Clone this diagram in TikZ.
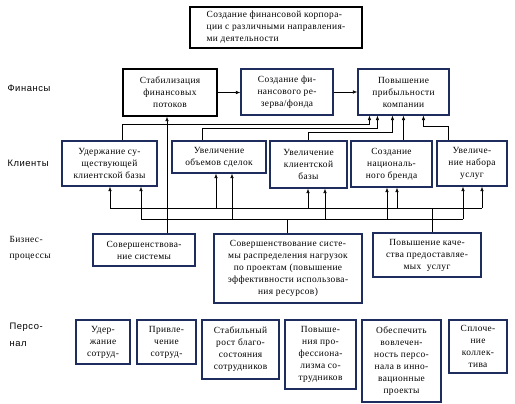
\documentclass[tikz,border=0pt]{standalone}
\usepackage{fontspec}
\setmainfont{Liberation Serif}[LetterSpace=4]
\newfontfamily\lblfont{Liberation Sans}[LetterSpace=6]
\usetikzlibrary{arrows.meta}
\definecolor{boxblue}{HTML}{1F2D5E}
\newcommand{\boxfont}{\fontsize{9.4}{12}\selectfont}
\begin{document}
\begin{tikzpicture}[x=1pt,y=-1pt,
    box/.style={draw=boxblue, line width=1.1pt, align=center, inner sep=1pt, font=\boxfont},
    darkbox/.style={box, draw=black},
    wire/.style={line width=0.6pt},
    arr/.style={-{Latex[length=4.5pt,width=3.4pt]}},
    rowlbl/.style={anchor=west, align=left, font=\lblfont\fontsize{9.4}{17}\selectfont},
    rowlblserif/.style={anchor=west, align=left, font=\fontsize{9.4}{16}\selectfont}]
    \useasboundingbox (0,0) rectangle (515,404);

    % цель
    \node[darkbox, align=left, minimum width=172pt, minimum height=41pt] (goal) at (276,27.5)
        {Создание финансовой корпора-\\ции с различными направления-\\ми деятельности};

    % уровни
    \node[rowlbl] (lfin) at (4,88) {Финансы};
    \node[rowlbl] (lcl) at (4,163) {Клиенты};
    \node[rowlblserif] (lbp) at (6,248) {Бизнес-\\процессы};
    \node[rowlbl] (lpers) at (6,335) {Персо-\\нал};

    % финансы
    \node[darkbox, minimum width=94pt, minimum height=47pt] (fin1) at (170,92.5) {Стабилизация\\финансовых\\потоков};
    \node[box, minimum width=92pt, minimum height=46pt] (fin2) at (287,92) {Создание фи-\\нансового ре-\\зерва/фонда};
    \node[box, minimum width=91pt, minimum height=46pt] (fin3) at (403.5,92) {Повышение\\прибыльности\\компании};

    % клиенты
    \node[box, minimum width=95pt, minimum height=45pt] (cl1) at (109.5,163.5) {Удержание су-\\ществующей\\клиентской базы};
    \node[box, minimum width=94pt, minimum height=32pt] (cl2) at (219,157) {Увеличение\\объемов сделок};
    \node[box, minimum width=77pt, minimum height=47pt] (cl3) at (308.5,164.5) {Увеличение\\клиентской\\базы};
    \node[box, minimum width=81pt, minimum height=46pt] (cl4) at (391.5,164) {Создание\\националь-\\ного бренда};
    \node[box, minimum width=70pt, minimum height=45pt] (cl5) at (472,163.5) {Увеличе-\\ние набора\\услуг};

    % бизнес-процессы
    \node[box, minimum width=102pt, minimum height=32pt] (bp1) at (144,250) {Совершенствова-\\ние системы};
    \node[box, minimum width=148pt, minimum height=69pt] (bp2) at (288,268.5)
        {Совершенствование систе-\\мы распределения нагрузок\\по проектам (повышение\\эффективности использова-\\ния ресурсов)};
    \node[box, minimum width=108pt, minimum height=44pt] (bp3) at (427,255) {Повышение каче-\\ства предоставляе-\\мых \ услуг};

    % персонал
    \node[box, minimum width=54pt, minimum height=44pt] (p1) at (103,342) {Удер-\\жание\\сотруд-};
    \node[box, minimum width=59pt, minimum height=44pt] (p2) at (166.5,342) {Привле-\\чение\\сотруд-};
    \node[box, minimum width=77pt, minimum height=59pt] (p3) at (240.5,349.5) {Стабильный\\рост благо-\\состояния\\сотрудников};
    \node[box, minimum width=71pt, minimum height=69pt] (p4) at (320.5,354.5) {Повыше-\\ния про-\\фессиона-\\лизма со-\\трудников};
    \node[box, minimum width=79pt, minimum height=82pt] (p5) at (401.5,361) {Обеспечить\\вовлечен-\\ность персо-\\нала в инно-\\вационные\\проекты};
    \node[box, minimum width=58pt, minimum height=53pt] (p6) at (478,346.5) {Сплоче-\\ние\\коллек-\\тива};

    % связи финансов
    \draw[wire, arr] (fin1.east) -- (fin1.east -| fin2.west);
    \draw[wire, arr] (fin2.east) -- (fin2.east -| fin3.west);

    % клиенты -> прибыльность
    \coordinate (f3a) at ([xshift=12pt]fin3.south west);
    \coordinate (f3b) at ([xshift=20pt]fin3.south west);
    \coordinate (f3c) at ([xshift=35pt]fin3.south west);
    \coordinate (f3e) at ([xshift=66pt]fin3.south west);
    \draw[wire, arr] ([xshift=61pt]cl1.north west) -- ++(0,-16) -| (f3a);
    \draw[wire, arr] ([xshift=31pt]cl2.north west) -- ++(0,-12) -| (f3b);
    \draw[wire, arr] (cl3.north) -- ++(0,-8) -| (f3c);
    \draw[wire, arr] (cl4.north -| fin3.south) -- (fin3.south);
    \draw[wire, arr] ([xshift=12pt]cl5.north west) -- ++(0,-14) -| (f3e);

    % совершенствование системы -> стабилизация
    \coordinate (f1in) at ([xshift=-3pt]fin1.south);
    \draw[wire, arr] (bp1.north -| f1in) -- (f1in);

    % шины к клиентам
    \coordinate (busa) at (432,208);
    \coordinate (busb) at (287,219);
    \draw[wire] (bp3.north -| busa) -- (busa);
    \draw[wire] (bp2.north -| busb) -- (busb);
    \draw[wire] (110,208) -- (482,208);
    \draw[wire] (141,219) -- (463,219);
    \foreach \x/\n in {110/cl1,216/cl2,308/cl3,397/cl4,482/cl5}
        \draw[wire, arr] (\x,208) -- (\n.south -| \x,208);
    \foreach \x/\n in {141/cl1,232/cl2,325/cl3,387/cl4,463/cl5}
        \draw[wire, arr] (\x,219) -- (\n.south -| \x,219);
\end{tikzpicture}
\end{document}
